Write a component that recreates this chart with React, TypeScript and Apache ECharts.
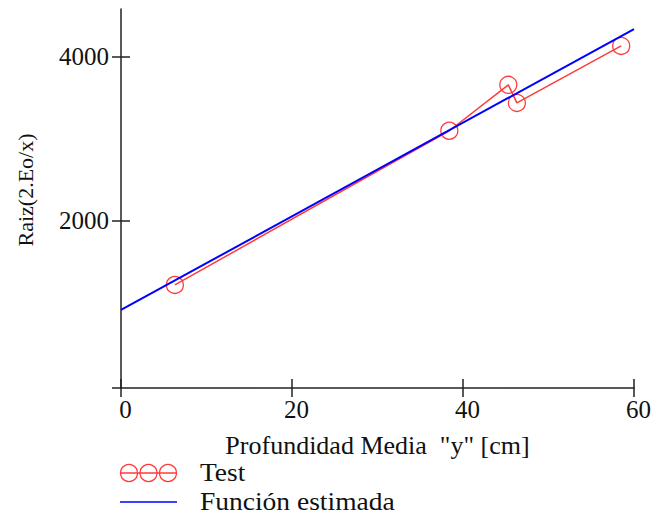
import React, { useEffect, useRef } from "react";
import * as echarts from "echarts";

const testX = [6.3, 38.4, 45.3, 46.3, 58.5];
const testY = [1220, 3100, 3660, 3440, 4135];
const fitX = [0, 60];
const fitY = [915, 4340];
const xTicks = [0, 20, 40, 60];
const yTickLabels = [2000, 4000];
const xName = 'Profundidad Media  "y" [cm]';
const yName = "Raiz(2.Eo/x)";
const legendNames = ["Test", "Función estimada"];

const FONT = "Liberation Serif";
const AX = "#222";
const RED = "#ff3a3a";

export default function App() {
  const ref = useRef<HTMLDivElement>(null);
  useEffect(() => {
    if (!ref.current) return;
    const chart = echarts.init(ref.current, undefined, { renderer: "svg" });
    const yMin = -37;
    const yMax = 4585;
    const baseX = {
      type: "value",
      min: 0,
      max: 60,
      splitLine: { show: false },
    };
    const baseY = {
      type: "value",
      min: yMin,
      max: yMax,
      splitLine: { show: false },
    };
    chart.setOption({
      animation: false,
      backgroundColor: "#fff",
      grid: { left: 121, right: 20, top: 9, bottom: 131, containLabel: false },
      xAxis: [
        {
          ...baseX,
          name: xName,
          nameLocation: "middle",
          nameGap: 44,
          nameTextStyle: { fontFamily: FONT, fontSize: 26, color: "#111" },
          axisLine: { show: true, onZero: false, lineStyle: { color: AX, width: 1.5 } },
          axisTick: { show: true, inside: false, length: 9, customValues: xTicks, lineStyle: { color: AX, width: 1.5 } },
          axisLabel: { customValues: xTicks, fontFamily: FONT, fontSize: 25, color: "#111", margin: 9, padding: [0, 0, 0, 9], formatter: (v: number) => String(v) },
        },
        {
          ...baseX,
          position: "bottom",
          axisLine: { show: false, onZero: false },
          axisTick: { show: true, inside: true, length: 9, customValues: xTicks, lineStyle: { color: AX, width: 1.5 } },
          axisLabel: { show: false },
        },
      ],
      yAxis: [
        {
          ...baseY,
          axisLine: { show: true, onZero: false, lineStyle: { color: AX, width: 1.5 } },
          axisTick: { show: true, inside: false, length: 9, customValues: [yMin, ...yTickLabels], lineStyle: { color: AX, width: 1.5 } },
          axisLabel: { customValues: yTickLabels, fontFamily: FONT, fontSize: 25, color: "#111", margin: 12, formatter: (v: number) => String(v) },
        },
        {
          ...baseY,
          position: "left",
          axisLine: { show: false, onZero: false },
          axisTick: { show: true, inside: true, length: 9, customValues: yTickLabels, lineStyle: { color: AX, width: 1.5 } },
          axisLabel: { show: false },
        },
      ],
      series: [
        {
          name: legendNames[0],
          type: "line",
          xAxisIndex: 0,
          yAxisIndex: 0,
          data: testX.map((x, i) => [x, testY[i]]),
          symbol: "circle",
          symbolSize: 17,
          showAllSymbol: true,
          itemStyle: { color: "rgba(0,0,0,0)", borderColor: RED, borderWidth: 1.3 },
          lineStyle: { color: RED, width: 1.5 },
          z: 2,
        },
        {
          name: legendNames[1],
          type: "line",
          xAxisIndex: 0,
          yAxisIndex: 0,
          data: fitX.map((x, i) => [x, fitY[i]]),
          showSymbol: false,
          symbol: "none",
          lineStyle: { color: "#0000ff", width: 2 },
          z: 3,
        },
      ],
      graphic: [
        {
          type: "text",
          x: 25,
          y: 190,
          rotation: Math.PI / 2,
          style: { text: yName, fontFamily: FONT, fontSize: 22, fill: "#111", align: "center", verticalAlign: "middle" },
        },
        { type: "line", shape: { x1: 120, y1: 473, x2: 177, y2: 473 }, style: { stroke: RED, lineWidth: 1.5 } },
        { type: "circle", shape: { cx: 129, cy: 473, r: 8.5 }, style: { fill: "none", stroke: RED, lineWidth: 1.3 } },
        { type: "circle", shape: { cx: 148.5, cy: 473, r: 8.5 }, style: { fill: "none", stroke: RED, lineWidth: 1.3 } },
        { type: "circle", shape: { cx: 168, cy: 473, r: 8.5 }, style: { fill: "none", stroke: RED, lineWidth: 1.3 } },
        {
          type: "text",
          x: 200,
          y: 473,
          scaleX: 1.1,
          style: { text: legendNames[0], fontFamily: FONT, fontSize: 25, fill: "#111", verticalAlign: "middle" },
        },
        { type: "line", shape: { x1: 120, y1: 502, x2: 177, y2: 502 }, style: { stroke: "#0000ff", lineWidth: 1.5 } },
        {
          type: "text",
          x: 200,
          y: 502,
          scaleX: 1.1,
          style: { text: legendNames[1], fontFamily: FONT, fontSize: 25, fill: "#111", verticalAlign: "middle" },
        },
      ],
    });
    return () => chart.dispose();
  }, []);
  return (
    <div
      ref={ref}
      style={{ position: "fixed", left: 0, top: 0, width: 654, height: 519, background: "#fff" }}
    />
  );
}
